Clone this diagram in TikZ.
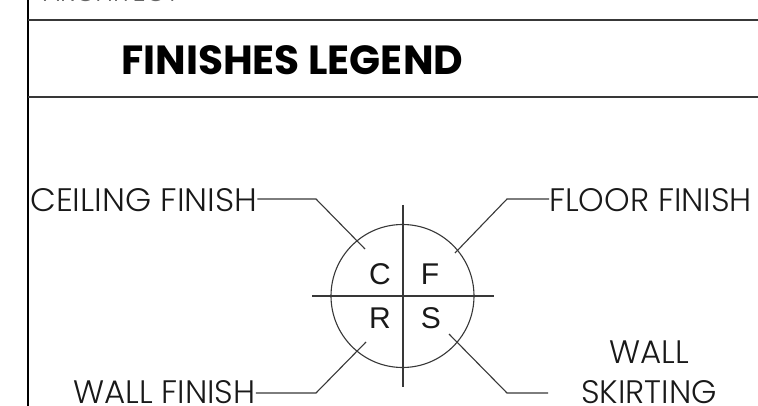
\documentclass[tikz,border=0pt]{standalone}
\usepackage{fontspec}
\setmainfont{Poppins}
\newfontfamily\lightf{Poppins Light}
\newfontfamily\arialf{Liberation Sans}
\definecolor{inkc}{gray}{0.22}
\definecolor{txtc}{gray}{0.1}
\tikzset{
  ln/.style={line width=1.1pt,inkc},
  lbl/.style={font=\lightf\fontsize{32.5}{34}\selectfont,text=txtc,inner sep=0pt},
  quad/.style={font=\arialf\fontsize{30}{32}\selectfont,text=black!90,inner sep=0pt}
}
\begin{document}
\begin{tikzpicture}[x=1pt,y=-1pt]
\useasboundingbox (0,0) rectangle (758,406);
\fill[white] (0,0) rectangle (758,406);
\begin{scope}
\clip (0,0) rectangle (758,406);
\draw[ln,line width=1.2pt,black] (28,-5) -- (28,406);
\draw[ln] (28,20) -- (758,20);
\draw[ln] (28,97) -- (758,97);
\node[lbl,anchor=base west,font=\lightf\fontsize{26}{28}\selectfont,text=black!60] (arch) at (43,2) {ARCHITECT};
\node[lbl,anchor=base west] (wf) at (73,403) {WALL FINISH};
\node[lbl,anchor=base] (ws2) at (649,403) {SKIRTING};
\end{scope}
\node[anchor=base west,inner sep=0pt,font=\fontsize{40.7}{44}\selectfont\bfseries] (title) at (121,75) {FINISHES LEGEND};
\node[ln,draw,circle,minimum size=143pt,inner sep=0pt] (c) at (402.5,296) {};
\coordinate (t) at (403,205);
\coordinate (b) at (403,387);
\coordinate (l) at (312,296);
\coordinate (r) at (494,296);
\draw[ln] (t) -- (b);
\draw[ln] (l) -- (r);
\node[quad] (C) at (380,274) {C};
\node[quad] (F) at (430,274) {F};
\node[quad] (R) at (380,318) {R};
\node[quad] (S) at (431,318) {S};
\node[lbl,anchor=base west] (cf) at (30,212) {\scalebox{1.03}[1]{CEILING FINISH}};
\node[lbl,anchor=base west] (ff) at (549,212) {FLOOR FINISH};
\node[lbl,anchor=base] (ws1) at (649,363) {WALL};
\coordinate (a1) at (316,199);
\coordinate (a2) at (365,249);
\coordinate (b1) at (507,199);
\coordinate (b2) at (455,253);
\coordinate (c1) at (316,393);
\coordinate (c2) at (366,342);
\coordinate (d1) at (507,393);
\coordinate (d2) at (449,334);
\coordinate (wsend) at (548,393);
\draw[ln] (cf.east |- a1) -- (a1) -- (a2);
\draw[ln] (ff.west |- b1) -- (b1) -- (b2);
\draw[ln] (wf.east |- c1) -- (c1) -- (c2);
\draw[ln] (wsend) -- (d1) -- (d2);
\end{tikzpicture}
\end{document}
